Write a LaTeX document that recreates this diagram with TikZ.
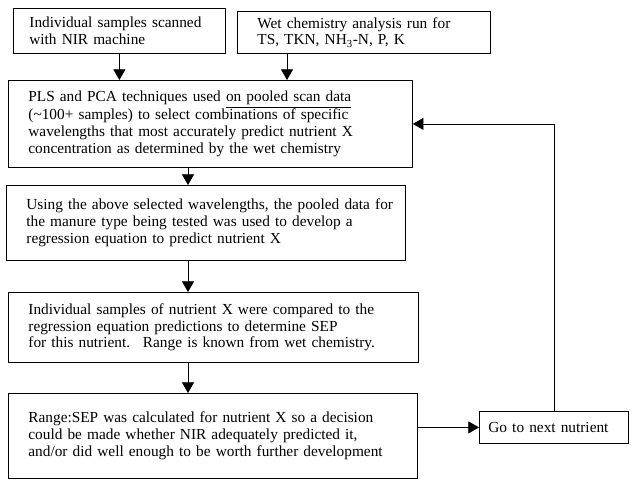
\documentclass[tikz,border=0pt]{standalone}
\usepackage{fontspec}
\setmainfont{Liberation Serif}
\usepackage{tikz}
\usetikzlibrary{arrows.meta,positioning}
\tikzstyle{box node}=[draw, rectangle, anchor=north west, align=left, inner ysep=0pt, font=\fontsize{11.5}{12.5}\selectfont]

\begin{document}
\begin{tikzpicture}[-{Triangle[length=8pt,width=9pt]}, x=0.75pt, y=-0.75pt, line width=0.6pt]
%
  \useasboundingbox (0,0) rectangle (632,480);
  \node[box node, inner xsep=12pt, text width=135pt, minimum height=33.75pt] (scan) at (13,8) {Individual samples scanned\\with NIR machine};
  \node[box node, inner xsep=15pt, text width=159.75pt, minimum height=31.5pt] (chem) at (237,11) {Wet chemistry analysis run for\\TS, TKN, NH\textsubscript{3}-N, P, K};
  \node[box node, inner xsep=15pt, text width=273pt, minimum height=65.25pt] (pls) at (8,80) {PLS and PCA techniques used \underline{on pooled scan data}\\(\textasciitilde100+ samples) to select combinations of specific\\wavelengths that most accurately predict nutrient X\\concentration as determined by the wet chemistry};
  \node[box node, inner xsep=15pt, text width=269.25pt, minimum height=56.25pt] (reg) at (6,185) {\mbox{Using the above selected wavelengths, the pooled data for}\\the manure type being tested was used to develop a\\regression equation to predict nutrient X};
  \node[box node, inner xsep=15pt, text width=277.5pt, minimum height=52.5pt] (sep) at (8,292) {Individual samples of nutrient X were compared to the\\regression equation predictions to determine SEP\\for this nutrient.~ Range is known from wet chemistry.};
  \node[box node, inner xsep=15pt, text width=276.75pt, minimum height=63.75pt] (range) at (8,393) {Range:SEP was calculated for nutrient X so a decision\\could be made whether NIR adequately predicted it,\\and/or did well enough to be worth further development};
  \node[box node, inner xsep=6.75pt, text width=98.25pt, minimum height=24pt] (next) at (479,411) {Go to next nutrient};
%
  \coordinate (wet) at (287,0);
  \coordinate (mid) at (188,0);
  \draw (scan) -- (scan |- pls.north);
  \draw (wet |- chem.south) -- (wet |- pls.north);
  \draw (mid |- pls.south) -- (mid |- reg.north);
  \draw (mid |- reg.south) -- (mid |- sep.north);
  \draw (mid |- sep.south) -- (mid |- range.north);
  \draw (range.east |- next) -- (next);
  \draw (next.north) |- (pls.east);
%
\end{tikzpicture}
\end{document}
